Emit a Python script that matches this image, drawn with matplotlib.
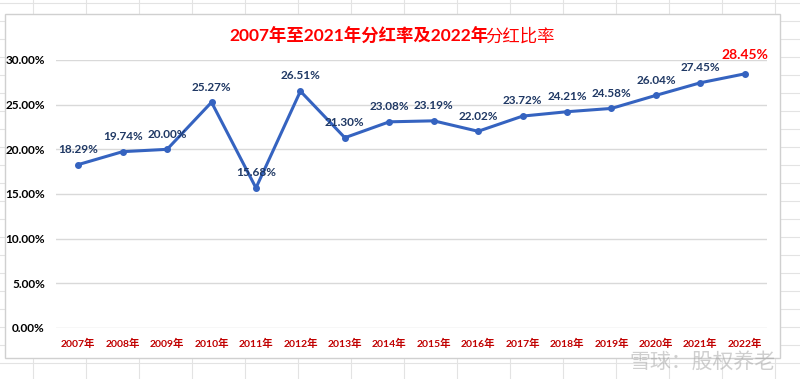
import matplotlib
matplotlib.use("Agg")
import matplotlib.pyplot as plt
from matplotlib.patches import Rectangle
from matplotlib.lines import Line2D

plt.rcParams['font.family'] = ['Lato', 'Noto Sans CJK SC', 'DejaVu Sans']

years = ["2007年", "2008年", "2009年", "2010年", "2011年", "2012年", "2013年", "2014年",
         "2015年", "2016年", "2017年", "2018年", "2019年", "2020年", "2021年", "2022年"]
ratios = [18.29, 19.74, 20.00, 25.27, 15.68, 26.51, 21.30, 23.08,
          23.19, 22.02, 23.72, 24.21, 24.58, 26.04, 27.45, 28.45]
yticks = [0, 5, 10, 15, 20, 25, 30]

W, H = 800, 379
fig = plt.figure(figsize=(W / 100, H / 100), dpi=100)
fig.patch.set_facecolor("white")

def fx(px):
    return px / W

def fy(py):
    return 1 - py / H

# spreadsheet grid in the background
for x in range(33, 800, 53):
    fig.add_artist(Line2D([fx(x), fx(x)], [0, 1], color="#E3E3E3", lw=0.8, zorder=0))
for y in range(3, 379, 18):
    fig.add_artist(Line2D([0, 1], [fy(y), fy(y)], color="#E3E3E3", lw=0.8, zorder=0))

# chart area
fig.add_artist(Rectangle((fx(5), fy(358)), fx(780) - fx(5), fy(14) - fy(358),
                         transform=fig.transFigure, facecolor="white",
                         edgecolor="#D0D0D0", lw=1, zorder=1))

ax = fig.add_axes([fx(56), fy(328), fx(767) - fx(56), fy(60) - fy(328)], zorder=2)
ax.patch.set_alpha(0)
x = list(range(len(years)))
ax.plot(x, ratios, color="#3563C0", lw=2.2, marker="o", markersize=4, zorder=3)

for i, v in enumerate(ratios):
    if i == len(ratios) - 1:
        ax.annotate(f"{v:.2f}%", (i, v), xytext=(0, 9), textcoords="offset points",
                    ha="center", va="bottom", fontsize=10, fontweight="bold", color="#FF0000")
    else:
        ax.annotate(f"{v:.2f}%", (i, v), xytext=(0, 7), textcoords="offset points",
                    ha="center", va="bottom", fontsize=8.5, fontweight="bold", color="#1F3864")

ax.set_xlim(-0.5, len(years) - 0.5)
ax.set_ylim(0, 30)
ax.set_yticks(yticks)
ax.set_yticklabels([f"{t:.2f}%" for t in yticks], fontsize=8.5, fontweight="bold", color="#000000")
ax.set_xticks(x)
ax.set_xticklabels(years, fontsize=7.5, fontweight="bold", color="#C00000")
ax.tick_params(length=0)
ax.tick_params(axis="y", pad=8)
ax.tick_params(axis="x", pad=8)
ax.grid(axis="y", color="#D9D9D9", lw=1)
ax.set_axisbelow(True)
for s in ax.spines.values():
    s.set_visible(False)

# title: bold part + regular part
fig.canvas.draw()
r = fig.canvas.get_renderer()
t1 = fig.text(0, fy(36), "2007年至2021年分红率及2022年", fontsize=12.5, fontweight="bold",
              color="#FF0000", va="center", ha="left")
t2 = fig.text(0, fy(36), "分红比率", fontsize=12.5, color="#FF0000", va="center", ha="left")
w1 = t1.get_window_extent(r).width - 3
w2 = t2.get_window_extent(r).width
x0 = 392 - (w1 + w2) / 2
t1.set_x(fx(x0))
t2.set_x(fx(x0 + w1))

# watermark
fig.text(fx(776), fy(362), "雪球：股权养老", fontsize=15, color="#A0A0A0", alpha=0.5,
         ha="right", va="center", zorder=5)

fig.savefig("out.png", dpi=100)
